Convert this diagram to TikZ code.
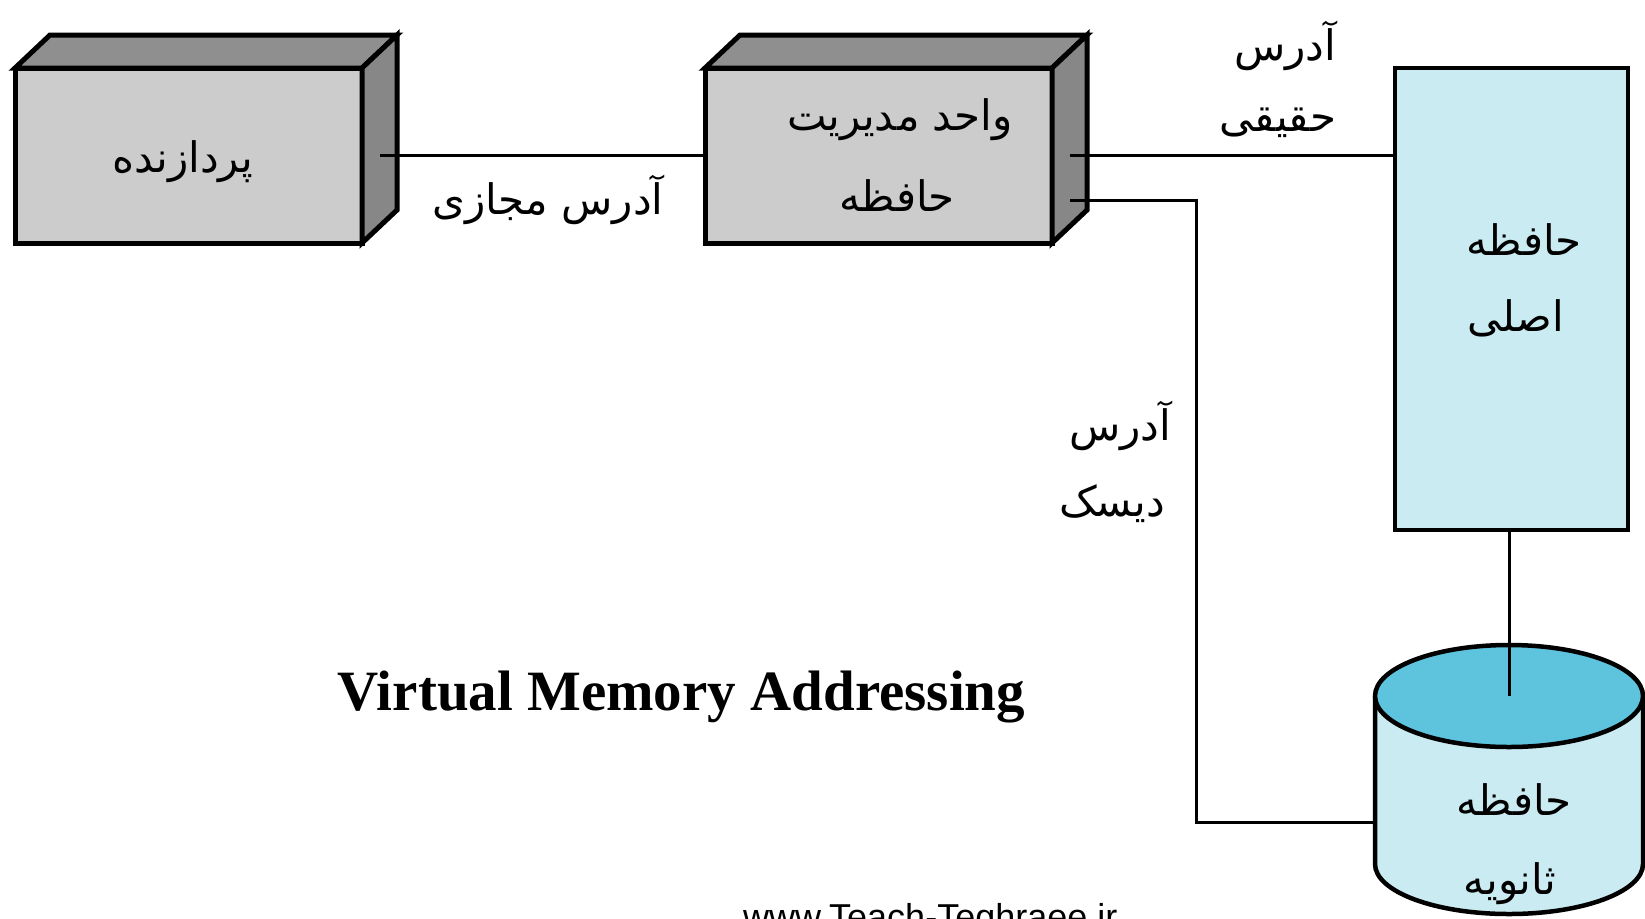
\documentclass[tikz,border=0pt]{standalone}
\usepackage{fontspec}
\setmainfont{Liberation Serif}
\newfontfamily\arabicfont[Script=Arabic]{DejaVu Sans}
\newfontfamily\wmfont{Liberation Sans}
\TeXXeTstate=1
\usetikzlibrary{calc}
\definecolor{frontgray}{HTML}{CCCCCC}
\definecolor{topgray}{HTML}{8F8F8F}
\definecolor{sidegray}{HTML}{878787}
\definecolor{lightblue}{HTML}{CAEBF1}
\definecolor{topblue}{HTML}{5EC3DD}
\tikzset{
 face/.style={draw=black, line width=5pt, line join=miter},
 front/.style={rectangle, fill=frontgray, draw=black, line width=5pt, minimum width=347pt, minimum height=175pt, inner sep=0pt, outer sep=0pt},
 mainmem/.style={rectangle, fill=lightblue, draw=black, line width=4.5pt, minimum width=233pt, minimum height=462pt, inner sep=0pt, outer sep=0pt},
 conn/.style={draw=black, line width=3pt},
 fa/.style={font=\arabicfont\fontsize{42}{48}\selectfont, inner sep=0pt},
}
\newcommand\fatext[1]{\beginR #1\endR}
\begin{document}
\begin{tikzpicture}[x=1pt,y=1pt]
\useasboundingbox (0,0) rectangle (1645,-918);
\clip (0,0) rectangle (1645,-918);
\fill[white] (0,0) rectangle (1645,-918);
% 3D boxes
\node[front] (proc) at (188.5,-155.5) {};
\node[front] (mmu) at (878.5,-155.5) {};
\foreach \b in {proc,mmu} {
 \filldraw[fill=topgray, face] (\b.north west) -- ++(35,33) -- ++(347,0) -- (\b.north east) -- cycle;
 \filldraw[fill=sidegray, face] (\b.north east) -- ++(35,33) -- ++(0,-175) -- (\b.south east) -- cycle;
}
% main memory
\node[mainmem] (main) at (1511.5,-299) {};
% disk (cylinder)
\node[minimum width=268pt, minimum height=269pt, inner sep=0pt, outer sep=0pt] (disk) at (1509,-779.5) {};
\coordinate (dtop) at (1509,-696);
\fill[lightblue] (1375,-696) -- (1375,-864) arc[start angle=180, end angle=360, x radius=134pt, y radius=50pt] -- (1643,-696) -- cycle;
\draw[line width=4.5pt] (1375,-696) -- (1375,-864) arc[start angle=180, end angle=360, x radius=134pt, y radius=50pt] -- (1643,-696);
\filldraw[fill=topblue, line width=4.5pt] (dtop) ellipse[x radius=134pt, y radius=51pt];
% connectors
\coordinate (procR) at (380,-155);
\coordinate (mmuR1) at (1070,-155);
\coordinate (mmuR2) at (1070,-200);
\coordinate (bend1) at (1196,-200);
\coordinate (bend2) at (1196,-822);
\draw[conn] (procR) -- (procR -| mmu.west);
\draw[conn] (mmuR1) -- (mmuR1 -| main.west);
\draw[conn] (mmuR2) -- (bend1) -- (bend2) -- (bend2 -| disk.west);
\draw[conn] (main.south -| dtop) -- (dtop);
% texts
\node[fa] (tproc) at (183,-162) {\fatext{پردازنده}};
\node[fa] (tmmu1) at (900,-120) {\fatext{واحد مدیریت}};
\node[fa] (tmmu2) at (897,-196) {\fatext{حافظه}};
\node[fa] (tvirt) at (548,-200) {\fatext{آدرس مجازی}};
\node[fa] (treal1) at (1285,-46) {\fatext{آدرس}};
\node[fa] (treal2) at (1278,-123) {\fatext{حقیقی}};
\node[fa] (tdisk1) at (1120,-426) {\fatext{آدرس}};
\node[fa] (tdisk2) at (1112,-504) {\fatext{دیسک}};
\node[fa] (tmain1) at (1524,-240) {\fatext{حافظه}};
\node[fa] (tmain2) at (1516,-318) {\fatext{اصلی}};
\node[fa] (tsec1) at (1514,-800) {\fatext{حافظه}};
\node[fa] (tsec2) at (1510,-884) {\fatext{ثانویه}};
\node[anchor=base, inner sep=0pt, font=\bfseries\fontsize{57}{60}\selectfont] (title) at (681.5,-710) {Virtual Memory Addressing};
\node[anchor=base west, inner sep=0pt, font=\wmfont\fontsize{36}{40}\selectfont] (wm) at (743,-929) {www.Teach-Teghraee.ir};
\end{tikzpicture}
\end{document}
